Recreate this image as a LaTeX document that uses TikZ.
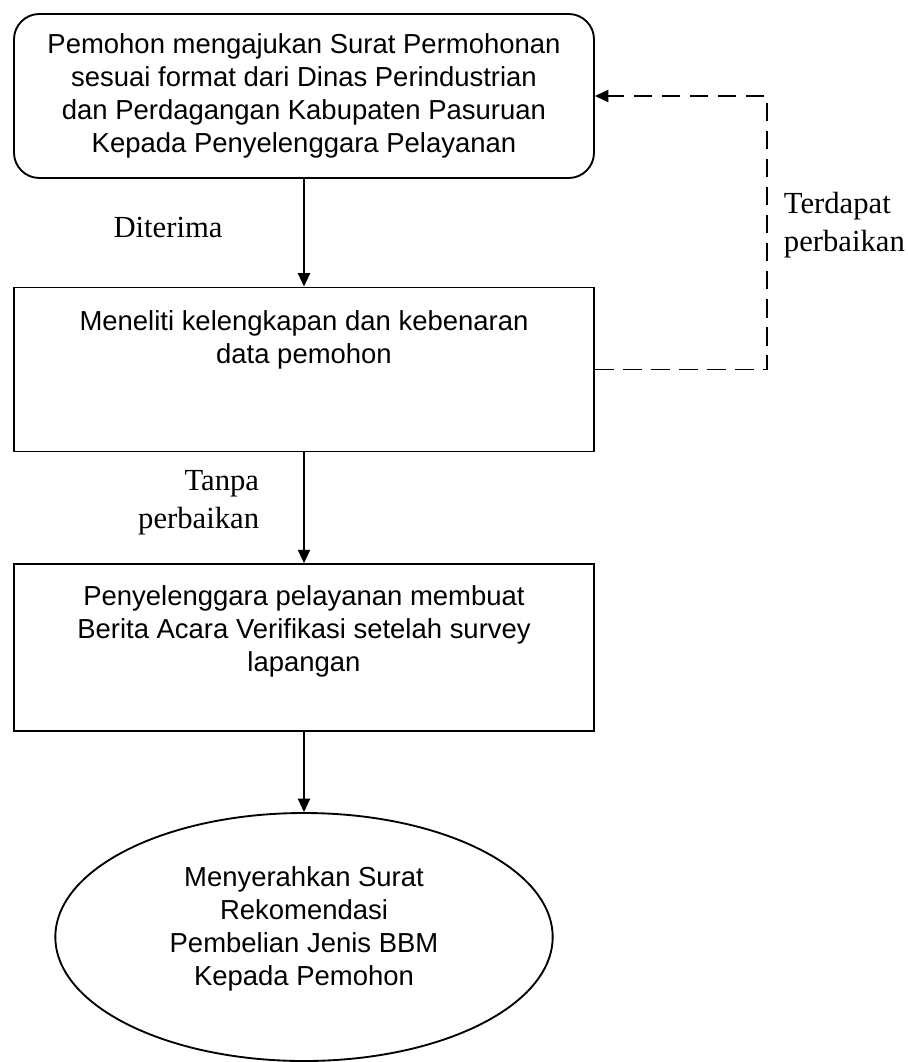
\documentclass[tikz,border=0pt]{standalone}
\usepackage{fontspec}
\setmainfont{Liberation Serif}
\setsansfont{Liberation Sans}
\usetikzlibrary{arrows.meta,positioning,shapes.geometric}

\begin{document}
\begin{tikzpicture}[x=0.75pt, y=-0.75pt, >={Triangle[length=10pt,width=9pt]},
  line width=1.4pt,
  every node/.style={font=\sffamily\fontsize{20.6}{24.75}\selectfont},
  langkah/.style={draw, minimum width=435pt, minimum height=123pt, inner sep=0pt},
  isi/.style={align=center, inner sep=0pt},
  ket/.style={font=\rmfamily\fontsize{23}{28.5}\selectfont, inner sep=0pt}]
  \useasboundingbox (0,0) rectangle (907,1062);

  % Nodes
  \node[langkah, rounded corners=19pt, align=center] (mohon) at (304,96)
    {Pemohon mengajukan Surat Permohonan\\
     sesuai format dari Dinas Perindustrian\\
     dan Perdagangan Kabupaten Pasuruan\\
     Kepada Penyelenggara Pelayanan};
  \node[langkah] (teliti) at (304,369.5) {};
  \node[isi, below=17pt of teliti.north] (telititeks)
    {Meneliti kelengkapan dan kebenaran\\ data pemohon};
  \node[langkah, minimum height=125pt] (verifikasi) at (304,647.5) {};
  \node[isi, below=16pt of verifikasi.north] (verifikasiteks)
    {Penyelenggara pelayanan membuat\\
     Berita Acara Verifikasi setelah survey\\
     lapangan};
  \node[draw, ellipse, minimum width=373pt, minimum height=186pt, inner sep=0pt]
    (serah) at (304,937) {};
  \node[isi] (serahteks) at (304,929)
    {Menyerahkan Surat\\ Rekomendasi\\ Pembelian Jenis BBM\\ Kepada Pemohon};

  % Labels
  \node[ket] (diterima) at (168,227) {Diterima};
  \node[ket, align=left, anchor=west] (terdapat) at (783,225) {Terdapat\\perbaikan};
  \node[ket, align=right, anchor=east] (tanpa) at (260,503) {Tanpa\\perbaikan};

  % Arrows
  \draw[->] (mohon) -- (teliti);
  \draw[->] (teliti) -- (verifikasi);
  \draw[->] (verifikasi) -- (serah);
  \draw[->, dash pattern=on 14pt off 7pt] (teliti.east) -- ++(172,0) |- (mohon.east);
\end{tikzpicture}
\end{document}
